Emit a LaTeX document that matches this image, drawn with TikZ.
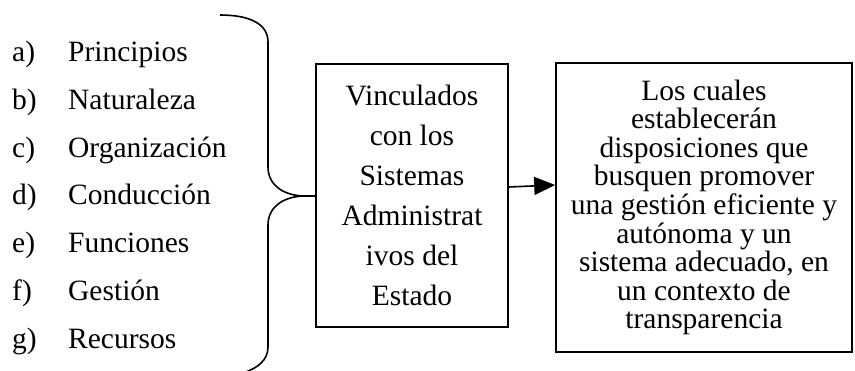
\documentclass[tikz,border=0pt]{standalone}
\usepackage{fontspec}
\setmainfont{Liberation Serif}
\usetikzlibrary{arrows.meta}
\begin{document}
\begin{tikzpicture}[x=1pt,y=1pt,
  txt/.style={font=\fontsize{29.5}{30}\selectfont, inner sep=0pt},
  item/.style={txt, anchor=base west},
  boxa/.style={draw, line width=1.6pt, minimum width=192pt, minimum height=263pt, inner sep=0pt, align=center, font=\fontsize{29.5}{40}\selectfont},
  boxb/.style={draw, line width=1.6pt, minimum width=296pt, minimum height=289pt, inner sep=0pt, align=center, font=\fontsize{29.5}{28.6}\selectfont},
  lw/.style={line width=1.6pt}]
\useasboundingbox (0,0) rectangle (855,370);
% list
\node[item] (la) at (12,308) {a)};
\node[item] (lb) at (12,260.3) {b)};
\node[item] (lc) at (12,212.7) {c)};
\node[item] (ld) at (12,165) {d)};
\node[item] (le) at (12,117.3) {e)};
\node[item] (lf) at (12,69.7) {f)};
\node[item] (lg) at (12,22) {g)};
\node[item] (wa) at (68,308) {Principios};
\node[item] (wb) at (68,260.3) {Naturaleza};
\node[item] (wc) at (68,212.7) {Organización};
\node[item] (wd) at (68,165) {Conducción};
\node[item] (we) at (68,117.3) {Funciones};
\node[item] (wf) at (68,69.7) {Gestión};
\node[item] (wg) at (68,22) {Recursos};
% boxes
\node[boxa] (b1) at (412,174.5) {Vinculados\\con los\\Sistemas\\Administrat\\ivos del\\Estado};
\node[boxb] (b2) at (704,162.5) {Los cuales\\establecerán\\disposiciones que\\busquen promover\\una gestión eficiente y\\autónoma y un\\sistema adecuado, en\\un contexto de\\transparencia};
% brace
\coordinate (top) at (220,355);
\coordinate (tip) at (305,174);
\coordinate (bot) at (243,-3);
\draw[lw] (top) .. controls (250,355) and (268,346) .. (268,328) -- (268,203)
  .. controls (268,184) and (285,174) .. (tip)
  .. controls (285,174) and (268,164) .. (268,145) -- (268,23)
  .. controls (268,10) and (258,2) .. (bot);
\draw[lw] (tip) -- (b1.west |- tip);
% arrow
\draw[lw, -{Triangle[length=21pt,width=18pt]}] ([yshift=8.5pt]b1.east) -- ([yshift=22.5pt]b2.west);
\end{tikzpicture}
\end{document}
